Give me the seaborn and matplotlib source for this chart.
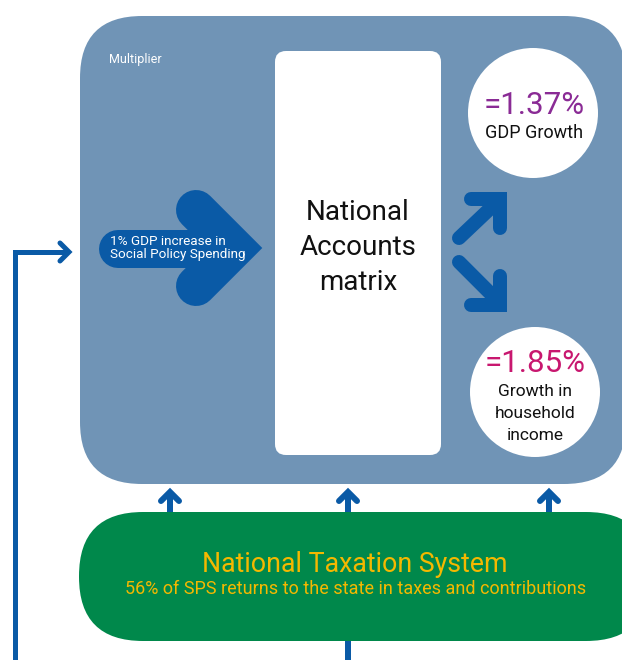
import matplotlib
matplotlib.use("Agg")
import matplotlib.pyplot as plt
from matplotlib.patches import FancyBboxPatch, Circle
import seaborn as sns

# ---- data / text ----
spend_increase_pct = 1
gdp_growth_pct = 1.37
household_growth_pct = 1.85
tax_return_pct = 56
box_title = "Multiplier"
matrix_lines = ["National", "Accounts", "matrix"]
gdp_label = ["GDP Growth"]
household_label = ["Growth in", "household", "income"]
tax_title = "National Taxation System"

sns.set_theme(style="white")
plt.rcParams['font.family'] = ['Roboto', 'DejaVu Sans']

BLUE_BOX = "#7094B6"
ARROW = "#0A5AA6"
GREEN = "#00884B"
YELLOW = "#F4B800"
PURPLE = "#8A2B95"
MAGENTA = "#C8176F"

W, H = 622, 660
fig = plt.figure(figsize=(W / 100, H / 100), dpi=100)
ax = fig.add_axes([0, 0, 1, 1])
ax.set_xlim(0, W)
ax.set_ylim(H, 0)
ax.axis("off")

def pt(px):
    return px * 0.72

# main blue box
ax.add_patch(FancyBboxPatch((80, 16), 546, 468,
                            boxstyle="round,pad=0,rounding_size=62",
                            fc=BLUE_BOX, ec="none", zorder=1))
# white matrix box
ax.add_patch(FancyBboxPatch((275, 51), 166, 404,
                            boxstyle="round,pad=0,rounding_size=11",
                            fc="white", ec="none", zorder=2))
# circles
ax.add_patch(Circle((533, 113), 65, fc="white", ec="none", zorder=2))
ax.add_patch(Circle((535, 392), 65, fc="white", ec="none", zorder=2))
# green pill
ax.add_patch(FancyBboxPatch((79, 512), 571, 129,
                            boxstyle="round,pad=0,rounding_size=64",
                            fc=GREEN, ec="none", zorder=1))

# big arrow
ax.plot([118, 212], [249, 249], color=ARROW, lw=pt(38),
        solid_capstyle="round", zorder=3)
ax.plot([196, 234, 196], [210, 248, 286], color=ARROW, lw=pt(40),
        solid_capstyle="round", solid_joinstyle="miter", zorder=3)

# small diagonal arrows
kw = dict(color=ARROW, lw=pt(14), solid_capstyle="round",
          solid_joinstyle="miter", zorder=3)
ax.plot([459, 497], [238, 202], **kw)
ax.plot([471, 500, 500], [199, 199, 228], **kw)
ax.plot([459, 497], [262, 300], **kw)
ax.plot([500, 500, 471], [276, 305, 305], **kw)

# left connector
kw2 = dict(color=ARROW, lw=pt(5), solid_capstyle="butt",
           solid_joinstyle="miter", zorder=3)
ax.plot([15, 15, 68], [660, 252, 252], **kw2)
ax.plot([60, 69, 60], [243, 252, 261], color=ARROW, lw=pt(5),
        solid_capstyle="round", solid_joinstyle="miter", zorder=3)

# bottom arrows
for x in [170, 348, 549]:
    ax.plot([x, x], [512, 492], color=ARROW, lw=pt(6), zorder=3,
            solid_capstyle="butt")
    ax.plot([x - 9, x, x + 9], [501, 492, 501], color=ARROW, lw=pt(6),
            solid_capstyle="round", solid_joinstyle="miter", zorder=3)
ax.plot([348, 348], [641, 660], color=ARROW, lw=pt(6), zorder=3,
        solid_capstyle="butt")

# texts
ax.text(109, 60, box_title, color="white", fontsize=9, va="center",
        ha="left", zorder=4)
ax.text(110, 248, f"{spend_increase_pct}% GDP increase in\nSocial Policy Spending",
        color="white", fontsize=9.7, va="center", ha="left",
        linespacing=1.0, zorder=4)
for i, line in enumerate(matrix_lines):
    ax.text(358, 212 + i * 35.5, line, color="#111111", fontsize=20,
            ha="center", va="center", zorder=4)
ax.text(534, 105, f"={gdp_growth_pct:.2f}%", color=PURPLE, fontsize=22.5,
        ha="center", va="center", zorder=4)
ax.text(534, 133, gdp_label[0], color="#111111", fontsize=13,
        ha="center", va="center", zorder=4)
ax.text(535, 364, f"={household_growth_pct:.2f}%", color=MAGENTA, fontsize=22.5,
        ha="center", va="center", zorder=4)
for i, line in enumerate(household_label):
    ax.text(535, 391 + i * 22.5, line, color="#111111", fontsize=12.5,
            ha="center", va="center", zorder=4)
ax.text(355, 564, tax_title, color=YELLOW, fontsize=19.3,
        ha="center", va="center", zorder=4)
ax.text(356, 589, f"{tax_return_pct}% of SPS returns to the state in taxes and contributions",
        color=YELLOW, fontsize=13, ha="center", va="center", zorder=4)

fig.savefig("out.png", dpi=100)
